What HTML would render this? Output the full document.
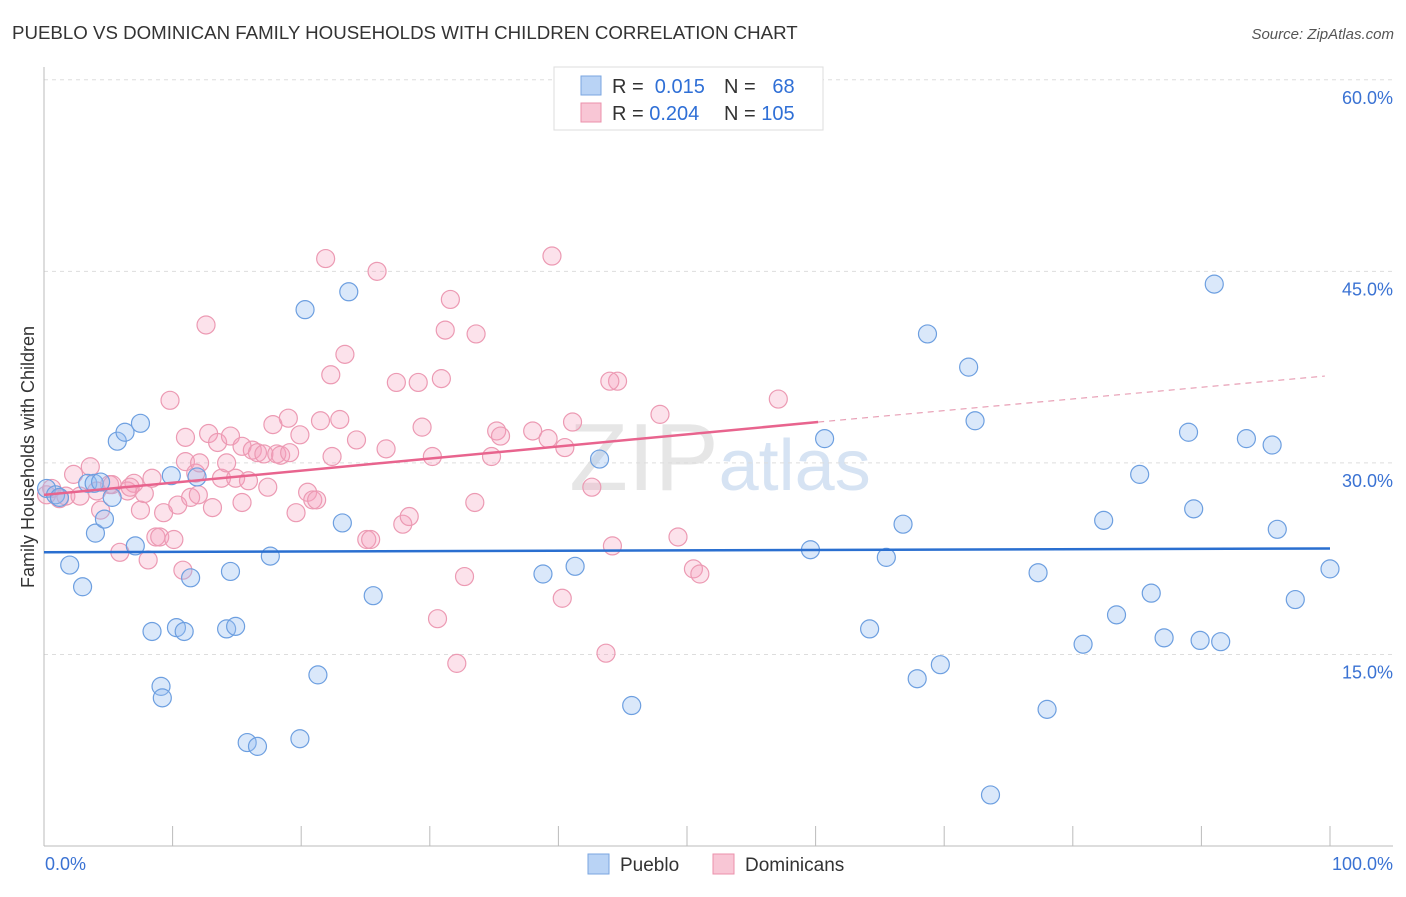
<!DOCTYPE html>
<html><head><meta charset="utf-8"><style>
body{margin:0;background:#fff;font-family:"Liberation Sans",sans-serif;}
svg text{font-family:"Liberation Sans",sans-serif;}
</style></head><body>
<svg id="chart" width="1406" height="892" viewBox="0 0 1406 892" xmlns="http://www.w3.org/2000/svg">
<text x="12" y="39" font-size="18.7" fill="#333">PUEBLO VS DOMINICAN FAMILY HOUSEHOLDS WITH CHILDREN CORRELATION CHART</text>
<text x="1394" y="39" font-size="15" fill="#555" text-anchor="end" font-style="italic">Source: ZipAtlas.com</text>
<text x="720" y="490" font-size="96" fill="#e6e6e6" text-anchor="middle" font-family="Liberation Serif">ZIP<tspan fill="#d6e3f3" font-family="Liberation Sans" font-size="72">atlas</tspan></text>
<g id="grid"></g>
<g id="axes"></g>
<g id="points"></g>
<g id="lines"></g>
<text transform="translate(34,457) rotate(-90)" font-size="18" fill="#333" text-anchor="middle">Family Households with Children</text>
<g>
<rect x="554" y="67" width="269" height="63" fill="#fff" stroke="#ddd"/>
<rect x="581" y="76" width="20" height="19" fill="#b9d3f5" stroke="#7aa6e0"/>
<rect x="581" y="103" width="20" height="19" fill="#f8c6d5" stroke="#eb90ab"/>
<text x="612" y="93" font-size="20" fill="#333">R = <tspan fill="#2f6fd6">&#160;0.015</tspan></text>
<text x="724" y="93" font-size="20" fill="#333">N = <tspan fill="#2f6fd6">&#160;&#160;68</tspan></text>
<text x="612" y="120" font-size="20" fill="#333">R = <tspan fill="#2f6fd6">0.204</tspan></text>
<text x="724" y="120" font-size="20" fill="#333">N = <tspan fill="#2f6fd6">105</tspan></text>
</g>
<g>
<rect x="588" y="854" width="21" height="20" fill="#b9d3f5" stroke="#7aa6e0"/>
<text x="620" y="871" font-size="19" fill="#333">Pueblo</text>
<rect x="713" y="854" width="21" height="20" fill="#f8c6d5" stroke="#eb90ab"/>
<text x="745" y="871" font-size="19" fill="#333">Dominicans</text>
</g>
</svg>
<script>
const yTicks=[15,30,45,60];
const yTickLabels=["15.0%","30.0%","45.0%","60.0%"];
const xTickLabels=["0.0%","100.0%"];
const puebloX=[0.2,0.9,2,3,3.4,4,4.7,5.3,5.7,6.3,7.1,7.5,8.4,9.1,9.2,9.9,10.3,10.9,11.4,11.9,14.2,14.5,14.9,15.8,16.6,17.6,19.9,20.3,21.3,23.2,23.7,25.6,38.8,41.3,43.2,45.7,59.6,60.7,64.2,65.5,66.8,67.9,68.7,69.7,71.9,72.4,73.6,77.3,78,80.8,82.4,83.4,85.2,86.1,87.1,89,89.4,89.9,91,91.5,93.5,95.5,95.9,97.3,100,3.9,4.4,1.2];
const puebloY=[28,27.5,22,20.3,28.4,24.5,25.6,27.3,31.7,32.4,23.5,33.1,16.8,12.5,11.6,29,17.1,16.8,21,28.9,17,21.5,17.2,8.1,7.8,22.7,8.4,42,13.4,25.3,43.4,19.6,21.3,21.9,30.3,11,23.2,31.9,17,22.6,25.2,13.1,40.1,14.2,37.5,33.3,4,21.4,10.7,15.8,25.5,18.1,29.1,19.8,16.3,32.4,26.4,16.1,44,16,31.9,31.4,24.8,19.3,21.7,28.4,28.5,27.3];
const domX=[0.2,0.6,1.2,1.7,2.3,2.8,3.6,4.1,4.4,5.1,5.3,5.9,6.5,7,7.5,7.8,8.1,8.4,8.7,9,9.3,9.8,10.1,10.4,10.8,11,11.4,11.8,12.1,12.6,12.8,13.1,13.5,13.8,14.2,14.5,14.9,15.4,15.4,15.9,16.2,16.6,17.1,17.4,17.8,18.1,18.4,19,19.1,19.6,19.9,20.5,20.9,21.2,21.5,21.9,22.3,22.4,23,23.4,24.3,25.1,25.4,25.9,26.6,27.4,27.9,28.4,29.1,29.4,30.2,30.6,31.6,32.1,32.7,33.6,33.5,34.8,35.2,35.5,38,39.2,39.5,40.3,40.5,41.1,42.6,43.7,44.2,44.6,47.9,49.3,50.5,51,57.1,31.2,30.9,44,6.7,11,12];
const domY=[27.5,28,27.2,27.4,29.1,27.4,29.7,27.8,26.3,28.3,28.3,23,27.8,28.4,26.3,27.6,22.4,28.8,24.2,24.2,26.1,34.9,24,26.7,21.6,30.1,27.3,29.2,30,40.8,32.3,26.5,31.6,28.8,30,32.1,28.8,31.3,26.9,28.6,31,30.8,30.7,28.1,33,30.7,30.6,33.5,30.8,26.1,32.2,27.7,27.1,27.1,33.3,46,36.9,30.5,33.4,38.5,31.8,24,24,45,31.1,36.3,25.2,25.8,36.3,32.8,30.5,17.8,42.8,14.3,21.1,40.1,26.9,30.5,32.5,32.1,32.5,31.9,46.2,19.4,31.2,33.2,28.1,15.1,23.5,36.4,33.8,24.2,21.7,21.3,35,40.4,36.6,36.4,28.1,32,27.5];
const puebloLine=[23,23.3];
const domLine=[27.5,33.2,36.8];
</script>
<script>
const NS="http://www.w3.org/2000/svg";
const X0=44,X1=1330,Y0=846,PY=12.77;
const sx=v=>X0+(X1-X0)*v/100;
const sy=v=>Y0-v*PY;
function mk(tag,attrs,parent){const e=document.createElementNS(NS,tag);for(const k in attrs)e.setAttribute(k,attrs[k]);parent.appendChild(e);return e;}
const grid=document.getElementById('grid'),axes=document.getElementById('axes'),pts=document.getElementById('points'),lines=document.getElementById('lines');
yTicks.forEach((t,i)=>{
 const l=mk('line',{x1:X0,x2:1393,y1:sy(t),y2:sy(t),stroke:'#ddd','stroke-dasharray':'4,4'},grid);
 
 
 const tx=mk('text',{x:1393,y:sy(t)+24,'font-size':18,fill:'#3a72d3','text-anchor':'end'},axes);
 tx.textContent=yTickLabels[i];
 
 
});
let a=mk('line',{x1:X0,x2:X0,y1:67,y2:Y0,stroke:'#bbb'},axes);


a=mk('line',{x1:X0,x2:1393,y1:Y0,y2:Y0,stroke:'#bbb'},axes);


for(let i=0;i<=10;i++){const t=mk('line',{x1:sx(i*10),x2:sx(i*10),y1:826,y2:Y0,stroke:'#bbb'},axes);
 
 }
[[0,'start',45],[100,'end',1393]].forEach((d,i)=>{const t=mk('text',{x:d[2],y:870,'font-size':18,fill:'#3a72d3','text-anchor':d[1]},axes);t.textContent=xTickLabels[i];
 
 });
domX.forEach((x,i)=>{if(domY[i]===undefined)return;const c=mk('circle',{cx:sx(x),cy:sy(domY[i]),r:9,fill:'rgba(245,160,188,0.3)',stroke:'#ec9ab3','stroke-width':1.2},pts);
 
 });
puebloX.forEach((x,i)=>{if(puebloY[i]===undefined)return;const c=mk('circle',{cx:sx(x),cy:sy(puebloY[i]),r:9,fill:'rgba(150,190,240,0.35)',stroke:'#6d9fe0','stroke-width':1.2},pts);
 
 });
let l=mk('line',{x1:sx(0),y1:sy(puebloLine[0]),x2:sx(100),y2:sy(puebloLine[1]),stroke:'#2a6fd0','stroke-width':2.5},lines);


l=mk('line',{x1:sx(0),y1:sy(domLine[0]),x2:sx(60.2),y2:sy(domLine[1]),stroke:'#e8648e','stroke-width':2.5},lines);


l=mk('line',{x1:sx(60.2),y1:sy(domLine[1]),x2:sx(99.6),y2:sy(domLine[2]),stroke:'#e8a0b6','stroke-width':1.2,'stroke-dasharray':'6,5'},lines);


</script>
</body></html>
